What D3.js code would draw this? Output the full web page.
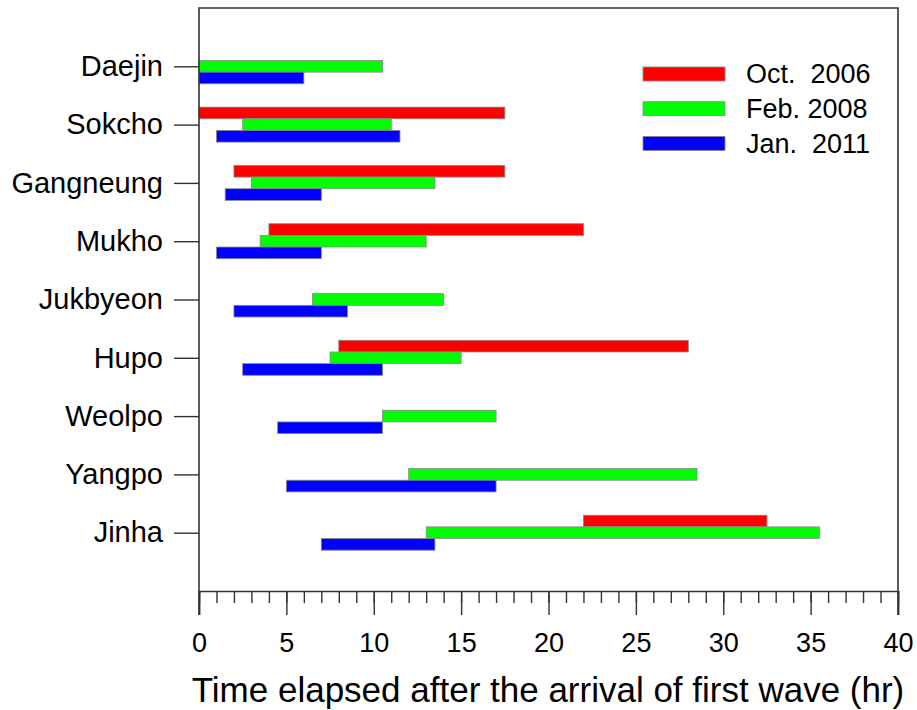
<!DOCTYPE html>
<html><head><meta charset="utf-8">
<script src="https://cdn.jsdelivr.net/npm/d3@7"></script>
<style>body{margin:0;background:#fff;} text{font-family:"Liberation Sans",Arial,sans-serif;fill:#000;}</style>
</head><body><svg id="c" width="917" height="710"></svg>
<script>
const categories = ["Daejin","Sokcho","Gangneung","Mukho","Jukbyeon","Hupo","Weolpo","Yangpo","Jinha"];
const seriesNames = ["Oct.  2006","Feb. 2008","Jan.  2011"];
const seriesColors = ["#ff0000","#00ff00","#0000ff"];
// [start, end] in hours; null = no data
const oct2006 = [null,[0,17.5],[2,17.5],[4,22],null,[8,28],null,null,[22,32.5]];
const feb2008 = [[0,10.5],[2.5,11],[3,13.5],[3.5,13],[6.5,14],[7.5,15],[10.5,17],[12,28.5],[13,35.5]];
const jan2011 = [[0,6],[1,11.5],[1.5,7],[1,7],[2,8.5],[2.5,10.5],[4.5,10.5],[5,17],[7,13.5]];
const xTicks = [0,5,10,15,20,25,30,35,40];
const xLabel = "Time elapsed after the arrival of first wave (hr)";

const allSeries = [oct2006, feb2008, jan2011];
const svg = d3.select("#c");
const L = 199, R = 898, T = 8, B = 591;
const x = d3.scaleLinear().domain([0,40]).range([L,R]);
const y = d3.scaleLinear().domain([0,10]).range([T,B]);
const barH = 0.2;

// bars
allSeries.forEach((s, si) => {
  const data = s.map((d,i)=>({d,i})).filter(o=>o.d);
  svg.append("g").selectAll("rect").data(data).join("rect")
    .attr("x", o=>x(o.d[0]))
    .attr("width", o=>x(o.d[1])-x(o.d[0]))
    .attr("y", o=>y(o.i+1+(si-1)*barH - barH/2))
    .attr("height", o=>y(barH)-y(0))
    .attr("fill", seriesColors[si])
    .attr("stroke","#888").attr("stroke-width",0.8);
});

// frame
svg.append("path").attr("d",`M${L},${B+24}V${T}H${R}V${B+24}`).attr("fill","none").attr("stroke","#333").attr("stroke-width",1.6);

// x axis
const xAxis = svg.append("g").attr("transform",`translate(0,${B})`);
xAxis.call(d3.axisBottom(x).tickValues(d3.range(0,41,1)).tickSize(12).tickFormat(""));
xAxis.call(g=>g.select(".domain").remove());
const xMaj = svg.append("g").attr("transform",`translate(0,${B})`)
  .call(d3.axisBottom(x).tickValues(xTicks).tickSize(24).tickPadding(18).tickFormat(d3.format("d")));
xMaj.select(".domain").attr("stroke","#333").attr("stroke-width",1.6);
svg.selectAll("g.tick line").attr("stroke","#333").attr("stroke-width",1.4);
xMaj.selectAll("text").attr("font-size",27).attr("font-family","Liberation Sans, Arial, sans-serif");

// y axis
const yAx = svg.append("g").attr("transform",`translate(${L},0)`)
  .call(d3.axisLeft(y).tickValues(d3.range(1,10)).tickSize(25).tickPadding(11).tickFormat((d)=>categories[d-1]));
yAx.select(".domain").remove();
yAx.selectAll("line").attr("stroke","#333").attr("stroke-width",1.4);
yAx.selectAll("text").attr("font-size",29).attr("font-family","Liberation Sans, Arial, sans-serif");

// x label
svg.append("text").attr("x",548).attr("y",702).attr("text-anchor","middle")
  .attr("font-size",35).text(xLabel);

// legend
const lg = svg.append("g");
seriesNames.forEach((n,i)=>{
  const yy = 67 + i*34.7;
  lg.append("rect").attr("x",643).attr("y",yy).attr("width",82).attr("height",14)
    .attr("fill",seriesColors[i]).attr("stroke","#888").attr("stroke-width",0.8);
  lg.append("text").attr("x",746).attr("y",yy+7).attr("dy","0.35em")
    .attr("font-size",27).style("white-space","pre").text(n);
});
</script></body></html>
